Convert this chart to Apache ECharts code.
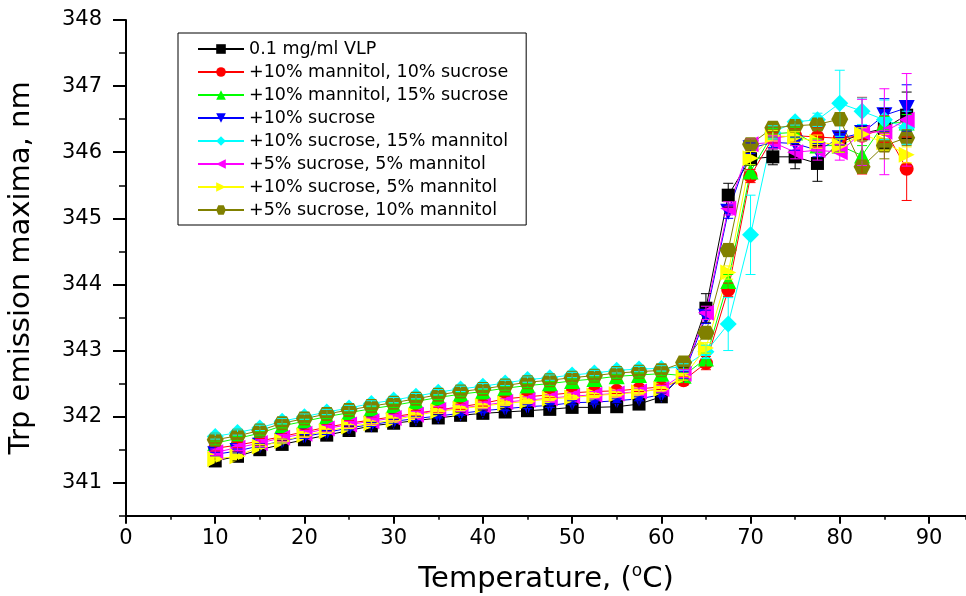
<!DOCTYPE html>
<html><head><meta charset="utf-8">
<script src="https://cdn.jsdelivr.net/npm/echarts@6/dist/echarts.min.js"></script>
<style>html,body{margin:0;padding:0;background:#fff}#c{width:966px;height:596px}</style>
</head><body><div id="c"></div><script>
const temps = [10,12.5,15,17.5,20,22.5,25,27.5,30,32.5,35,37.5,40,42.5,45,47.5,50,52.5,55,57.5,60,62.5,65,67.5,70,72.5,75,77.5,80,82.5,85,87.5];
const xTickLabels = [0,10,20,30,40,50,60,70,80,90];
const yTickLabels = [341,342,343,344,345,346,347,348];
const seriesNames = ['0.1 mg/ml VLP','+10% mannitol, 10% sucrose','+10% mannitol, 15% sucrose','+10% sucrose','+10% sucrose, 15% mannitol','+5% sucrose, 5% mannitol','+10% sucrose, 5% mannitol','+5% sucrose, 10% mannitol'];

const vlp      = [341.33,341.40,341.50,341.58,341.65,341.72,341.79,341.86,341.90,341.94,341.98,342.02,342.05,342.07,342.09,342.11,342.14,342.14,342.15,342.19,342.30,342.65,343.64,345.35,345.90,345.93,345.93,345.83,346.15,346.28,346.36,346.56];
const vlpErr   = [0.08,0.07,0.07,0.06,0.06,0.06,0.06,0.06,0.06,0.05,0.05,0.05,0.05,0.05,0.05,0.05,0.05,0.05,0.05,0.05,0.06,0.10,0.22,0.18,0.10,0.12,0.18,0.27,0.15,0.10,0.30,0.35];
const man10suc10    = [341.52,341.57,341.63,341.70,341.77,341.84,341.90,341.95,342.00,342.05,342.10,342.15,342.20,342.27,342.30,342.33,342.36,342.38,342.39,342.42,342.45,342.55,342.81,343.92,345.64,346.22,346.25,346.23,346.21,346.25,346.35,345.75];
const man10suc10Err = [0.04,0.04,0.04,0.04,0.04,0.04,0.04,0.04,0.04,0.04,0.04,0.04,0.04,0.04,0.04,0.04,0.04,0.04,0.04,0.04,0.04,0.05,0.10,0.10,0.10,0.08,0.10,0.15,0.10,0.58,0.20,0.48];
const man10suc15    = [341.60,341.67,341.75,341.86,341.93,342.00,342.06,342.12,342.17,342.23,342.29,342.34,342.38,342.43,342.47,342.50,342.54,342.57,342.61,342.63,342.65,342.62,342.88,344.05,345.71,346.28,346.30,346.10,346.10,345.95,346.44,346.45];
const man10suc15Err = [0.03,0.03,0.03,0.03,0.03,0.03,0.03,0.03,0.03,0.03,0.03,0.03,0.03,0.03,0.03,0.03,0.03,0.03,0.03,0.03,0.03,0.05,0.08,0.10,0.10,0.08,0.08,0.10,0.10,0.15,0.10,0.12];
const suc10    = [341.43,341.48,341.56,341.63,341.70,341.76,341.83,341.88,341.93,341.97,342.01,342.05,342.09,342.12,342.15,342.17,342.21,342.22,342.24,342.27,342.33,342.63,343.51,345.10,346.06,346.15,346.13,346.03,346.21,346.29,346.56,346.67];
const suc10Err = [0.03,0.03,0.03,0.03,0.03,0.03,0.03,0.03,0.03,0.03,0.03,0.03,0.03,0.03,0.03,0.03,0.03,0.03,0.03,0.03,0.03,0.05,0.10,0.10,0.08,0.08,0.10,0.10,0.10,0.12,0.25,0.35];
const suc10man15    = [341.70,341.76,341.83,341.93,342.00,342.07,342.13,342.20,342.25,342.31,342.37,342.42,342.46,342.51,342.56,342.59,342.63,342.66,342.70,342.72,342.73,342.75,342.98,343.40,344.75,346.30,346.46,346.49,346.74,346.62,346.49,346.37];
const suc10man15Err = [0.04,0.04,0.04,0.04,0.04,0.04,0.04,0.04,0.04,0.04,0.04,0.04,0.04,0.04,0.04,0.04,0.04,0.04,0.04,0.04,0.04,0.05,0.10,0.40,0.60,0.10,0.05,0.10,0.50,0.20,0.30,0.25];
const suc5man5    = [341.46,341.53,341.60,341.68,341.74,341.82,341.88,341.93,341.98,342.03,342.10,342.13,342.17,342.22,342.25,342.28,342.31,342.33,342.35,342.38,342.42,342.65,343.57,345.15,346.12,346.15,346.00,346.03,346.00,346.30,346.31,346.49];
const suc5man5Err = [0.05,0.05,0.05,0.05,0.05,0.05,0.05,0.05,0.05,0.05,0.05,0.05,0.05,0.05,0.05,0.05,0.05,0.05,0.05,0.05,0.05,0.06,0.10,0.10,0.08,0.10,0.10,0.15,0.12,0.50,0.65,0.70];
const suc10man5    = [341.36,341.40,341.55,341.63,341.72,341.78,341.85,341.90,341.95,342.02,342.08,342.12,342.16,342.20,342.23,342.27,342.29,342.32,342.34,342.37,342.42,342.60,343.04,344.18,345.91,346.25,346.23,346.16,346.10,346.27,346.15,345.96];
const suc10man5Err = [0.03,0.03,0.03,0.03,0.03,0.03,0.03,0.03,0.03,0.03,0.03,0.03,0.03,0.03,0.03,0.03,0.03,0.03,0.03,0.03,0.03,0.05,0.08,0.10,0.10,0.08,0.08,0.10,0.10,0.10,0.12,0.12];
const suc5man10    = [341.65,341.71,341.79,341.90,341.97,342.04,342.10,342.16,342.21,342.27,342.33,342.38,342.42,342.47,342.52,342.55,342.59,342.62,342.66,342.68,342.70,342.82,343.27,344.52,346.12,346.37,346.40,346.42,346.50,345.78,346.10,346.22];
const suc5man10Err = [0.05,0.05,0.05,0.05,0.05,0.05,0.05,0.05,0.05,0.05,0.05,0.05,0.05,0.05,0.05,0.05,0.05,0.05,0.05,0.05,0.05,0.06,0.08,0.10,0.08,0.06,0.06,0.08,0.10,0.10,0.20,0.12];

const values = [vlp, man10suc10, man10suc15, suc10, suc10man15, suc5man5, suc10man5, suc5man10];
const errors = [vlpErr, man10suc10Err, man10suc15Err, suc10Err, suc10man15Err, suc5man5Err, suc10man5Err, suc5man10Err];
const colors = ['#000000','#FF0000','#00FF00','#0000FF','#00FFFF','#FF00FF','#FFFF00','#808000'];
const hexagon = 'path://M0,5 L3,0 L11,0 L14,5 L11,10 L3,10 Z';
const symbols = ['rect','circle','triangle','triangle','diamond','triangle','triangle',hexagon];
const symbolRot = [0,0,0,180,0,90,-90,0];
const symbolSizes = [13,14,16,16,[17,17],16,16,[17,14]];

const FONT = 'DejaVu Sans';
const chart = echarts.init(document.getElementById('c'), null, {renderer:'canvas'});

const series = [];
values.forEach((vals, i) => {
  series.push({
    name: seriesNames[i], type: 'line', xAxisIndex: 0, yAxisIndex: 0,
    data: temps.map((t, k) => [t, vals[k]]),
    symbol: symbols[i], symbolSize: symbolSizes[i], symbolRotate: symbolRot[i],
    showAllSymbol: true,
    itemStyle: {color: colors[i]},
    lineStyle: {color: colors[i], width: 1},
    z: 2, animation: false
  });
});
values.forEach((vals, i) => {
  series.push({
    name: seriesNames[i] + ' error', type: 'custom', xAxisIndex: 0, yAxisIndex: 0,
    data: temps.map((t, k) => [t, vals[k] - errors[i][k], vals[k] + errors[i][k]]),
    encode: {x: 0, y: [1, 2]},
    z: 3, animation: false, silent: true,
    renderItem: function (params, api) {
      const x = api.value(0);
      const lo = api.coord([x, api.value(1)]);
      const hi = api.coord([x, api.value(2)]);
      const w = 5;
      const st = {stroke: colors[i], lineWidth: 1};
      return {type: 'group', children: [
        {type: 'line', shape: {x1: lo[0], y1: lo[1], x2: hi[0], y2: hi[1]}, style: st},
        {type: 'line', shape: {x1: lo[0]-w, y1: lo[1], x2: lo[0]+w, y2: lo[1]}, style: st},
        {type: 'line', shape: {x1: hi[0]-w, y1: hi[1], x2: hi[0]+w, y2: hi[1]}, style: st}
      ]};
    }
  });
});

const axisLineStyle = {color: '#000', width: 2};
const option = {
  animation: false,
  backgroundColor: '#fff',
  grid: [
    {left: 126, right: 0, top: 20, height: 495.8, outerBoundsMode: 'none', containLabel: false},
    {left: 126, top: 20, width: 803, height: 462.7, outerBoundsMode: 'none', containLabel: false}
  ],
  xAxis: [
    {type: 'value', gridIndex: 0, min: 0, max: 94.15, interval: 5,
     axisLine: {show: true, lineStyle: axisLineStyle}, axisTick: {show: true, length: 4, lineStyle: {color: '#000', width: 1.5}},
     axisLabel: {show: false}, splitLine: {show: false},
     name: '{a|Temperature, (}{s|o}{a|C)}', nameLocation: 'middle', nameGap: 47,
     nameTextStyle: {rich: {a: {fontFamily: FONT, fontSize: 29, color: '#000', lineHeight: 34},
                            s: {fontFamily: FONT, fontSize: 17, color: '#000', lineHeight: 34, verticalAlign: 'top', padding: [0,0,14,0]}}}},
    {type: 'value', gridIndex: 1, min: xTickLabels[0], max: xTickLabels[xTickLabels.length-1], interval: 10, offset: 33,
     axisLine: {show: false}, axisTick: {show: true, length: 8, lineStyle: {color: '#000', width: 2}},
     axisLabel: {show: true, fontFamily: FONT, fontSize: 21, color: '#000', margin: 12},
     splitLine: {show: false}}
  ],
  yAxis: [
    {type: 'value', gridIndex: 0, min: 340.5, max: 348, interval: 0.5,
     axisLine: {show: true, lineStyle: axisLineStyle}, axisTick: {show: true, length: 7, lineStyle: {color: '#000', width: 1.5}},
     axisLabel: {show: false}, splitLine: {show: false},
     name: 'Trp emission maxima, nm', nameLocation: 'middle', nameGap: 90,
     nameTextStyle: {fontFamily: FONT, fontSize: 29, color: '#000'}},
    {type: 'value', gridIndex: 1, min: yTickLabels[0], max: yTickLabels[yTickLabels.length-1], interval: 1,
     axisLine: {show: false}, axisTick: {show: true, length: 13, lineStyle: {color: '#000', width: 2}},
     axisLabel: {show: true, fontFamily: FONT, fontSize: 21, color: '#000', margin: 24},
     splitLine: {show: false}}
  ],
  legend: {
    data: seriesNames, orient: 'vertical', left: 178, top: 33,
    itemWidth: 46, itemHeight: 12, itemGap: 5,
    padding: [7, 18, 6, 19],
    borderColor: '#000', borderWidth: 1,
    textStyle: {fontFamily: FONT, fontSize: 17.5, color: '#000', lineHeight: 14},
    selectedMode: false
  },
  series: series
};
chart.setOption(option);
</script></body></html>
